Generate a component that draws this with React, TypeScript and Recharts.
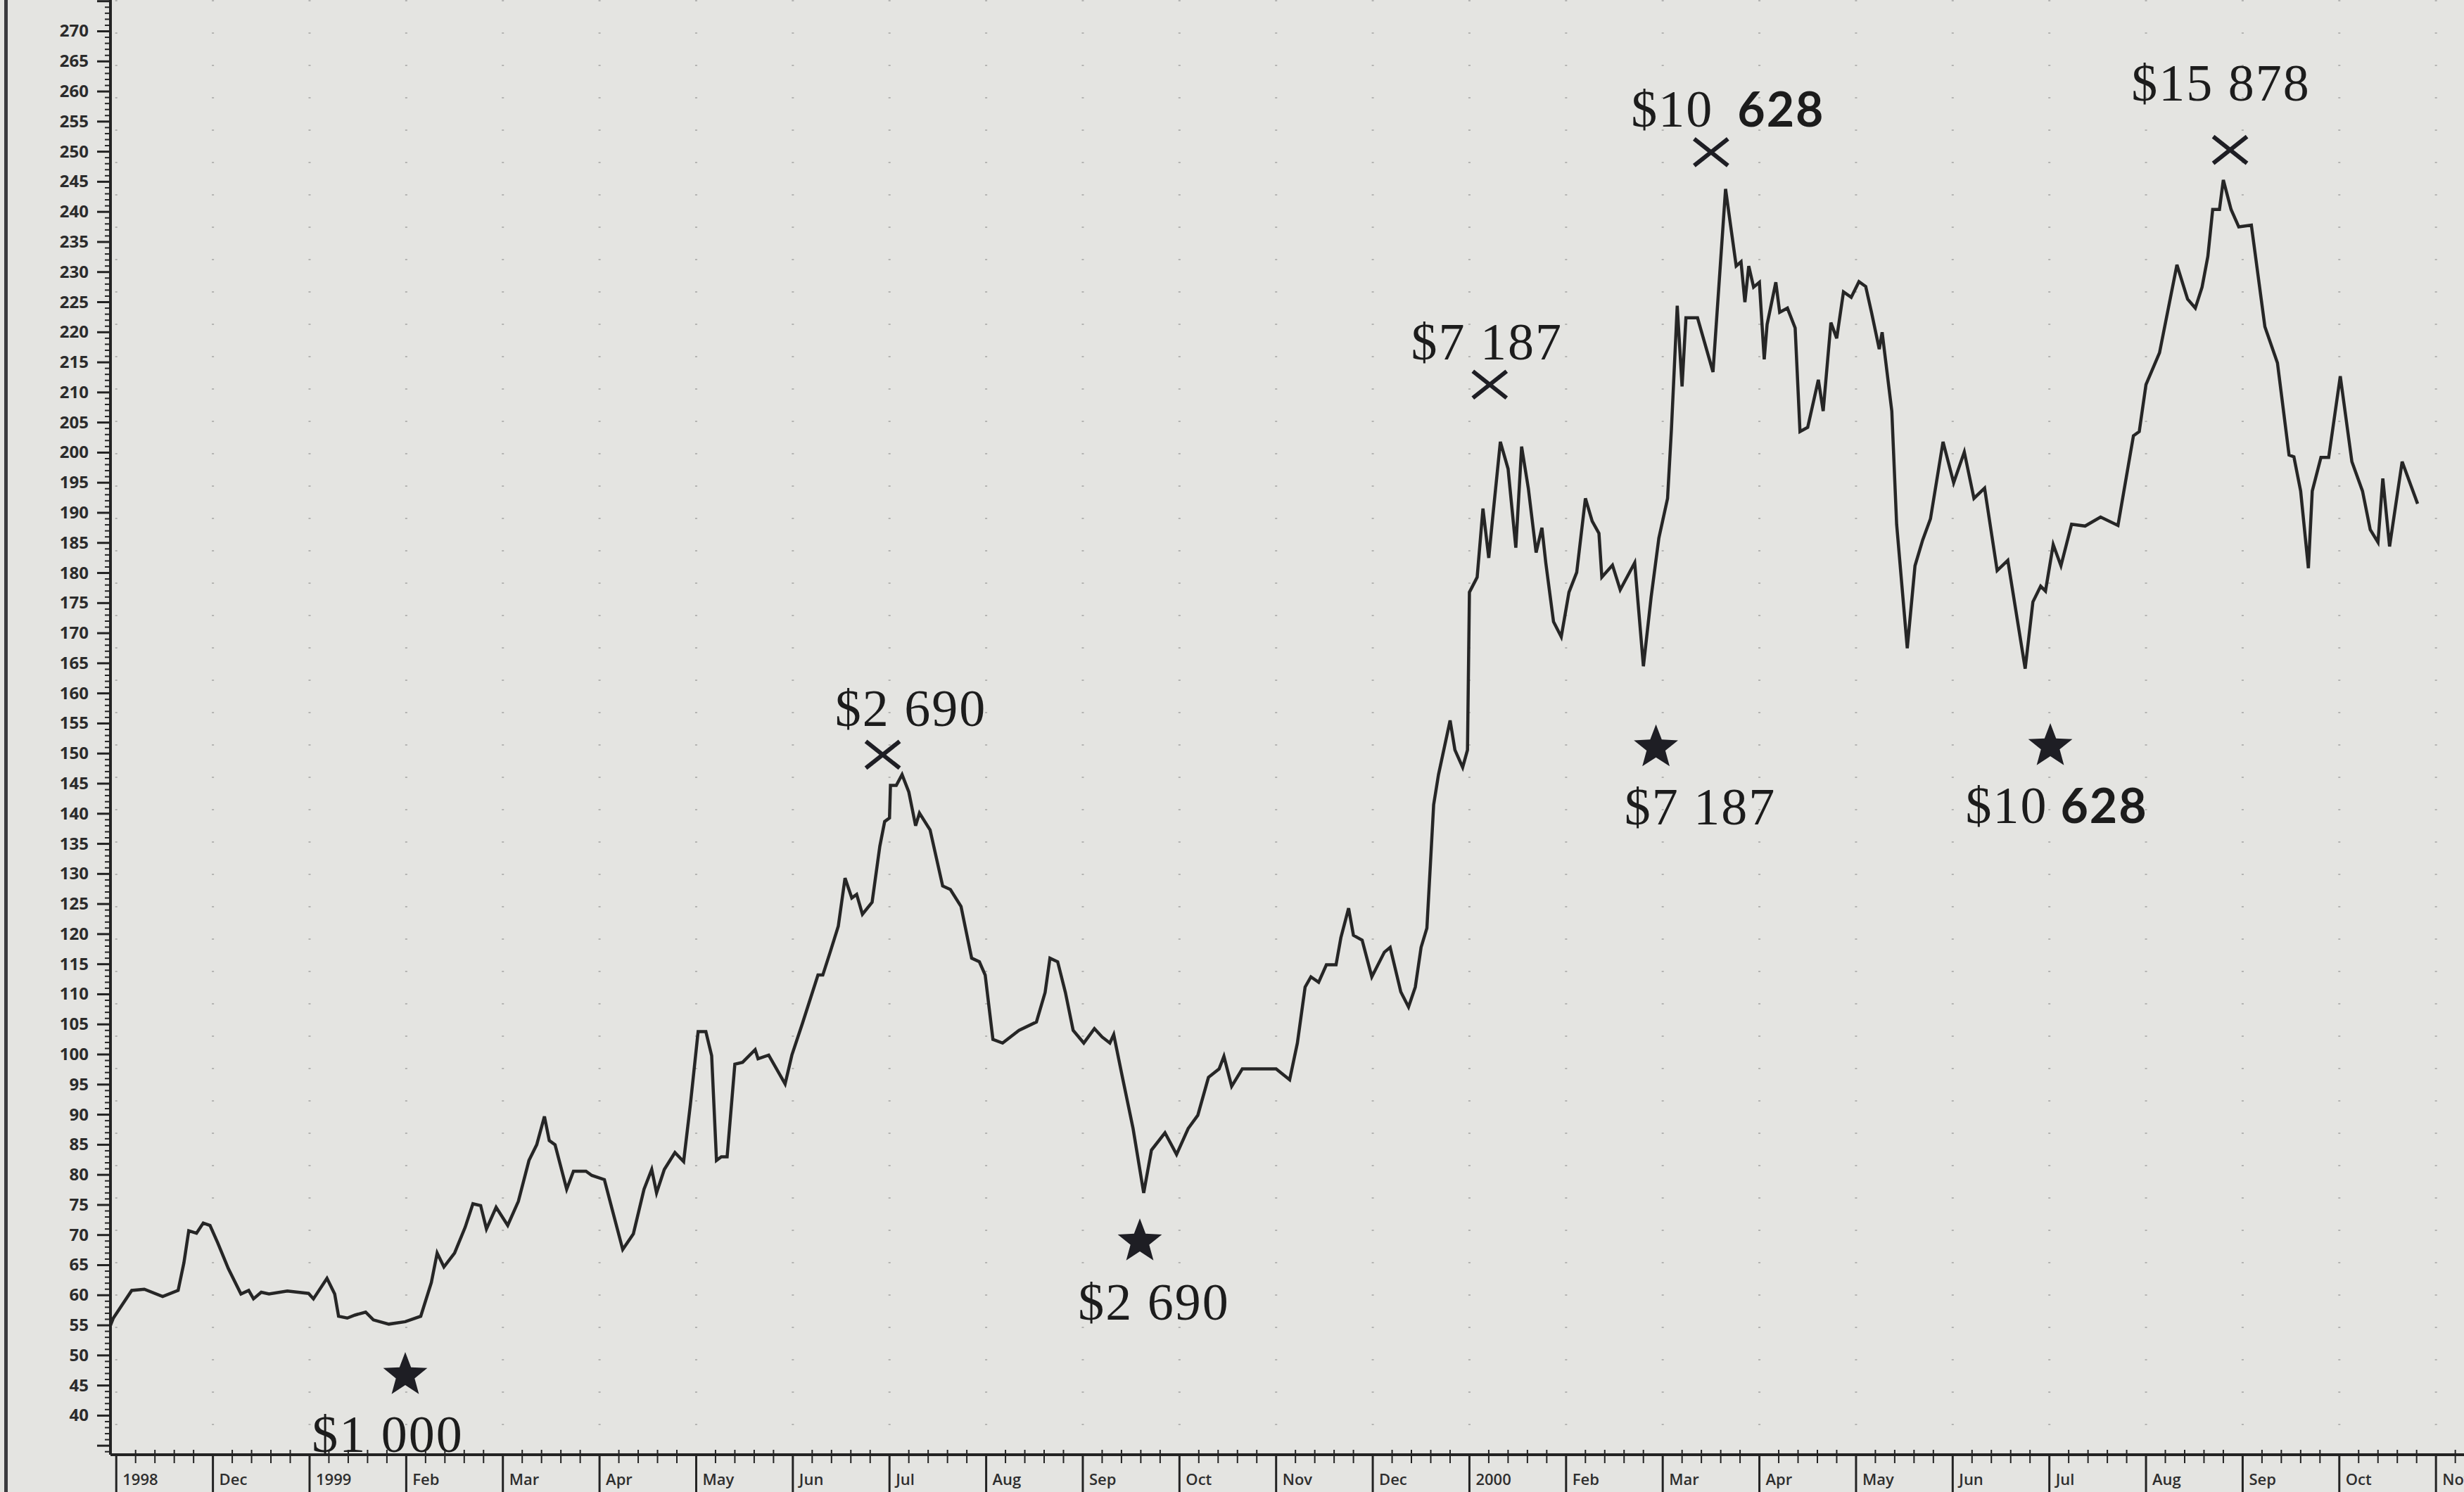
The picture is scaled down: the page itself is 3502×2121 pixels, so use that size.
import React from 'react';
import { ComposedChart, Line, Scatter, XAxis, YAxis, CartesianGrid } from 'recharts';

// x = months since 1 Nov 1998 (fractional), y = index level
const months = [
  -0.06, -0.03, 0.16, 0.29, 0.48, 0.64, 0.7, 0.75, 0.83, 0.9, 0.97, 1.05, 1.16, 1.29, 1.37, 1.42, 1.5, 1.58, 1.77,
  1.99, 2.04, 2.18, 2.26, 2.3, 2.39, 2.47, 2.58, 2.66, 2.82, 2.99, 3.15, 3.26, 3.32, 3.39, 3.5, 3.61, 3.69, 3.77,
  3.83, 3.93, 4.05, 4.16, 4.27, 4.35, 4.43, 4.48, 4.54, 4.66, 4.73, 4.86, 4.92, 5.05, 5.13, 5.24, 5.35, 5.46, 5.54,
  5.59, 5.67, 5.78, 5.87, 5.94, 6.02, 6.1, 6.16, 6.21, 6.26, 6.32, 6.4, 6.48, 6.61, 6.64, 6.75, 6.92, 6.99, 7.1,
  7.26, 7.31, 7.39, 7.47, 7.54, 7.61, 7.66, 7.72, 7.82, 7.9, 7.95, 8.0, 8.01, 8.07, 8.13, 8.2, 8.27, 8.31, 8.42,
  8.55, 8.63, 8.74, 8.85, 8.93, 8.99, 9.07, 9.17, 9.34, 9.52, 9.61, 9.66, 9.74, 9.82, 9.9, 10.01, 10.12, 10.2,
  10.28, 10.32, 10.41, 10.52, 10.63, 10.71, 10.85, 10.97, 11.09, 11.19, 11.3, 11.41, 11.46, 11.54, 11.65, 11.81,
  12.0, 12.14, 12.22, 12.3, 12.36, 12.44, 12.52, 12.62, 12.67, 12.75, 12.8, 12.89, 12.99, 13.12, 13.18, 13.29,
  13.37, 13.44, 13.5, 13.56, 13.63, 13.68, 13.8, 13.85, 13.93, 13.98, 14.0, 14.08, 14.14, 14.2, 14.24, 14.32,
  14.4, 14.48, 14.54, 14.61, 14.69, 14.75, 14.79, 14.87, 14.95, 15.03, 15.11, 15.2, 15.27, 15.34, 15.37, 15.48,
  15.56, 15.71, 15.8, 15.88, 15.96, 16.05, 16.09, 16.15, 16.2, 16.24, 16.36, 16.52, 16.65, 16.76, 16.81, 16.85,
  16.89, 16.94, 17.0, 17.05, 17.08, 17.17, 17.21, 17.29, 17.37, 17.42, 17.5, 17.61, 17.66, 17.74, 17.8, 17.87,
  17.95, 18.03, 18.1, 18.16, 18.24, 18.27, 18.37, 18.42, 18.53, 18.61, 18.69, 18.77, 18.9, 19.01, 19.12, 19.22,
  19.33, 19.46, 19.57, 19.75, 19.83, 19.91, 19.96, 20.04, 20.12, 20.23, 20.37, 20.53, 20.71, 20.87, 20.93, 21.0,
  21.14, 21.32, 21.43, 21.51, 21.58, 21.64, 21.69, 21.76, 21.8, 21.88, 21.96, 22.09, 22.23, 22.36, 22.48, 22.53,
  22.6, 22.68, 22.72, 22.81, 22.89, 23.01, 23.13, 23.24, 23.32, 23.4, 23.45, 23.52, 23.65, 23.81,
];
const prices = [
  55.0, 56.2, 60.8, 61.0, 59.8, 60.8, 65.4, 70.7, 70.3, 72.0, 71.6, 68.7, 64.4, 60.2, 60.8, 59.4, 60.5, 60.2, 60.7,
  60.3, 59.4, 62.8, 60.2, 56.5, 56.2, 56.7, 57.2, 55.9, 55.2, 55.6, 56.5, 62.1, 67.0, 64.7, 67.0, 71.3, 75.2, 74.9,
  71.0, 74.6, 71.6, 75.6, 82.4, 85.0, 89.7, 85.7, 85.0, 77.6, 80.6, 80.6, 79.9, 79.2, 74.3, 67.6, 70.2, 77.6, 80.9,
  77.0, 80.9, 83.7, 82.2, 91.7, 103.8, 103.8, 99.8, 82.4, 83.0, 83.0, 98.4, 98.7, 100.8, 99.3, 99.9, 95.1, 99.9, 105.2,
  113.2, 113.2, 117.2, 121.3, 129.3, 126.0, 126.6, 123.3, 125.3, 134.6, 138.7, 139.3, 144.7, 144.7, 146.5, 143.6, 138.0, 140.1, 137.3,
  128.0, 127.4, 124.6, 116.0, 115.4, 113.2, 102.5, 101.9, 104.0, 105.4, 110.3, 116.0, 115.4, 110.3, 104.0, 101.9, 104.3, 102.9,
  101.9, 103.3, 96.2, 87.7, 77.0, 84.1, 87.0, 83.4, 87.7, 89.9, 96.2, 97.6, 99.7, 94.7, 97.6, 97.6,
  97.6, 95.8, 101.9, 111.2, 112.9, 112.0, 114.9, 114.9, 119.4, 124.3, 119.8, 119.0, 112.9, 117.0, 117.8, 110.4,
  107.9, 111.2, 117.8, 121.0, 141.5, 146.5, 155.5, 150.6, 147.7, 150.6, 176.8, 179.3, 190.7, 182.5, 189.1, 201.8,
  197.3, 184.2, 201.0, 194.0, 183.4, 187.5, 181.7, 171.9, 169.4, 176.8, 180.1, 192.4, 188.6, 186.6, 179.3, 181.3,
  177.2, 181.7, 164.5, 176.0, 185.8, 192.4, 203.9, 224.4, 211.0, 222.4, 222.4, 213.4, 243.8, 231.0, 231.7, 225.0,
  231.0, 227.5, 228.3, 215.5, 221.3, 228.3, 223.3, 224.0, 220.7, 203.5, 204.2, 212.1, 206.9, 221.6, 219.0, 226.7,
  225.8, 228.4, 227.6, 223.3, 217.2, 220.0, 206.9, 188.1, 167.5, 181.2, 185.5, 189.0, 201.8, 195.0, 200.1, 192.4,
  194.1, 180.4, 182.1, 164.1, 175.2, 177.8, 177.0, 184.7, 181.2, 188.1, 187.8, 189.3, 187.9, 202.8, 203.5, 211.3,
  216.6, 231.2, 225.5, 224.0, 227.5, 232.6, 240.4, 240.4, 245.3, 240.4, 237.5, 237.8, 220.9, 214.9, 199.6, 199.3,
  193.6, 180.8, 193.6, 199.2, 199.2, 212.7, 198.5, 193.6, 187.2, 185.1, 195.7, 184.4, 198.5, 191.5,
];

const monthLabels = [
  '1998', 'Dec', '1999', 'Feb', 'Mar', 'Apr', 'May', 'Jun', 'Jul', 'Aug', 'Sep', 'Oct', 'Nov',
  'Dec', '2000', 'Feb', 'Mar', 'Apr', 'May', 'Jun', 'Jul', 'Aug', 'Sep', 'Oct', 'Nov',
];

// buy points (stars) and sell points (crosses)
const buyMonths = [2.99, 10.59, 15.93, 20.01];
const buyValues = [46.7, 68.9, 151.0, 151.2];
const buyLabels = ['$1 000', '$2 690', '$7 187', '$10 628'];
const sellMonths = [7.93, 14.21, 16.5, 21.87];
const sellValues = [149.8, 211.3, 249.9, 250.3];
const sellLabels = ['$2 690', '$7 187', '$10 628', '$15 878'];

// label placement relative to marker, px (layout only)
const buyNudge = [[-25, 109], [20, 111], [63, 109], [9, 109]];
const sellNudge = [[40, -41], [-4, -36], [24, -36], [-13, -70]];

const series = months.map((t, i) => ({ t, v: prices[i] }));
const buyPoints = buyMonths.map((t, i) => ({ t, v: buyValues[i], label: buyLabels[i], i }));
const sellPoints = sellMonths.map((t, i) => ({ t, v: sellValues[i], label: sellLabels[i], i }));

const X_DOMAIN: [number, number] = [-0.06, 24.29];
const Y_DOMAIN: [number, number] = [33.5, 275.2];

const monthTicks = monthLabels.map((_, i) => i);
const xTicks: number[] = [];
monthTicks.forEach((m) => {
  for (let k = 0; k < 5; k++) {
    const v = m + k / 5;
    if (v <= X_DOMAIN[1]) xTicks.push(v);
  }
});
const yTicks: number[] = [];
for (let v = 34; v <= 275; v++) yTicks.push(v);

const INK = '#232323';
const SERIF = '"Liberation Serif", "DejaVu Serif", serif';
const SANS = '"Open Sans", "DejaVu Sans", sans-serif';

const YTick = (props: any) => {
  const { x, y, payload } = props;
  const v = payload.value;
  const major = v % 5 === 0;
  return (
    <g>
      <line x1={x - (major ? 19 : 8)} x2={x} y1={y} y2={y} stroke={INK} strokeWidth={major ? 3 : 2} />
      {major && v >= 40 && v <= 270 && (
        <text x={x - 31} y={y} dy={8} textAnchor="end" fontFamily={SANS} fontWeight={700} fontSize={24} fill="#2b2b2b">
          {v}
        </text>
      )}
    </g>
  );
};

const XTick = (props: any) => {
  const { x, y, payload } = props;
  const v = payload.value;
  const idx = Math.round(v);
  if (Math.abs(v - idx) > 1e-6) {
    return <line x1={x} x2={x} y1={y - 7} y2={y + 12} stroke={INK} strokeWidth={2} />;
  }
  return (
    <g>
      <line x1={x} x2={x} y1={y} y2={y + 56} stroke={INK} strokeWidth={3} />
      <text x={x + 9} y={y + 43} fontFamily={SANS} fontSize={22} fontWeight={600} fill="#2e2e2e">
        {monthLabels[idx]}
      </text>
    </g>
  );
};

// "$10 628" is set with the last group in a bold sans, as in the print
const Amount = ({ x, y, label, wide }: { x: number; y: number; label: string; wide: boolean }) => {
  const parts = label.split(' ');
  const mixed = parts[0] === '$10';
  return (
    <text x={x} y={y} textAnchor="middle" fill="#1c1c1c" fontFamily={SERIF} fontSize={74} letterSpacing={2}>
      {mixed ? (
        <>
          <tspan>{parts[0]}</tspan>
          <tspan dx={wide ? 34 : 18} fontFamily='"Lato", "Open Sans", sans-serif' fontWeight={700} fontSize={68}>
            {parts[1]}
          </tspan>
        </>
      ) : (
        label
      )}
    </text>
  );
};

const starPoints = (cx: number, cy: number, R: number, r: number) => {
  const pts: string[] = [];
  for (let k = 0; k < 10; k++) {
    const a = -Math.PI / 2 + (k * Math.PI) / 5;
    const rad = k % 2 === 0 ? R : r;
    pts.push(`${cx + rad * Math.cos(a)},${cy + rad * Math.sin(a)}`);
  }
  return pts.join(' ');
};

const BuyMarker = (props: any) => {
  const { cx, cy, payload } = props;
  const [dx, dy] = buyNudge[payload.i];
  return (
    <g>
      <polygon points={starPoints(cx, cy, 33, 14)} fill="#1e1e24" />
      <Amount x={cx + dx} y={cy + dy} label={payload.label} wide={false} />
    </g>
  );
};

const SellMarker = (props: any) => {
  const { cx, cy, payload } = props;
  const [dx, dy] = sellNudge[payload.i];
  return (
    <g>
      <line x1={cx - 24} y1={cy - 19} x2={cx + 24} y2={cy + 19} stroke="#1e1e24" strokeWidth={6} />
      <line x1={cx - 24} y1={cy + 19} x2={cx + 24} y2={cy - 19} stroke="#1e1e24" strokeWidth={6} />
      <Amount x={cx + dx} y={cy + dy} label={payload.label} wide={true} />
    </g>
  );
};

export default function App() {
  return (
    <div style={{ position: 'absolute', left: 0, top: 0, width: 3502, height: 2121, background: '#e4e4e1', overflow: 'hidden' }}>
      <div style={{ position: 'absolute', left: 6, top: 0, width: 5, height: 2121, background: '#3a3a3e' }} />
      <ComposedChart width={3502} height={2121} margin={{ top: 0, right: 0, bottom: 0, left: 7 }}>
        <CartesianGrid
          horizontal={false}
          verticalValues={monthTicks}
          stroke="#b4b4b2"
          strokeWidth={3}
          strokeDasharray="2 44"
        />
        <XAxis
          dataKey="t"
          type="number"
          domain={X_DOMAIN}
          allowDataOverflow
          ticks={xTicks}
          interval={0}
          height={53}
          tickSize={0}
          tickMargin={0}
          tickLine={false}
          tick={<XTick />}
          axisLine={{ stroke: INK, strokeWidth: 4 }}
        />
        <YAxis
          type="number"
          domain={Y_DOMAIN}
          allowDataOverflow
          ticks={yTicks}
          interval={0}
          width={150}
          tickSize={0}
          tickMargin={0}
          tickLine={false}
          tick={<YTick />}
          axisLine={{ stroke: INK, strokeWidth: 4 }}
        />
        <Line
          data={series}
          dataKey="v"
          type="linear"
          stroke="#262626"
          strokeWidth={4.5}
          dot={false}
          isAnimationActive={false}
        />
        <Scatter data={buyPoints} dataKey="v" shape={<BuyMarker />} isAnimationActive={false} />
        <Scatter data={sellPoints} dataKey="v" shape={<SellMarker />} isAnimationActive={false} />
      </ComposedChart>
    </div>
  );
}
